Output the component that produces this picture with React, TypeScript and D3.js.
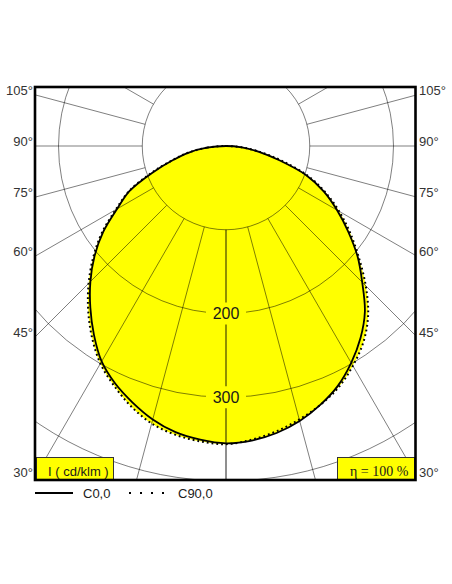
import * as d3 from "d3";

// gamma angles (deg from nadir) and intensities in cd/klm
const gammaAngles = [0, 5, 10, 15, 20, 25, 30, 35, 40, 45, 50, 55, 60, 65, 70, 75, 80, 85, 90];
const c0Values = [355, 353, 348, 340, 329, 316, 299, 280, 258, 230, 205, 178, 153, 129, 102, 66, 40, 19, 0];
const c180Values = [355, 352, 347, 338, 326, 313, 297, 275, 252, 229, 205, 179, 150, 127, 94, 66, 45, 23, 0];
const c90Values = [355, 352, 346, 338, 329, 318, 303, 286, 264, 236, 207, 181, 156, 131, 104, 70, 42, 20, 0];
const c270Values = [356, 354, 350, 343, 331, 316, 300, 279, 256, 232, 207, 181, 152, 128, 96, 67, 46, 23, 0];

const gridIntensities = [100, 200, 300, 400, 500];
const intensityLabels = [200, 300];
const radialAngles = [0, 15, 30, 45, 60, 75, 90, 105, 120, 135, 150, 165, 180];
const angleLabels = [105, 90, 75, 60, 45, 30];

const W = 452;
const H = 584;
const box = { left: 35, right: 415.5, top: 87, bottom: 480 };
const cx = 226;
const cy = 146;

const rScale = d3.scaleLinear().domain([0, 400]).range([0, 335]);
const rad = (deg: number) => (deg * Math.PI) / 180;

const radial = d3
  .lineRadial<[number, number]>()
  .angle((d) => d[0])
  .radius((d) => d[1])
  .curve(d3.curveCatmullRomClosed.alpha(0.5));

function curvePoints(leftVals: number[], rightVals: number[]): [number, number][] {
  const left = gammaAngles
    .map((g, i) => [Math.PI + rad(g), rScale(leftVals[i])] as [number, number])
    .reverse();
  const right = gammaAngles
    .slice(1, -1)
    .map((g, i) => [Math.PI - rad(g), rScale(rightVals[i + 1])] as [number, number]);
  return [...left, ...right];
}

const solidPath = radial(curvePoints(c180Values, c0Values)) ?? "";
const dottedPath = radial(curvePoints(c270Values, c90Values)) ?? "";

const labelFont = "'Liberation Sans', Arial, sans-serif";

function App() {
  const rMax = rScale(700);
  const halfW = (box.right - box.left) / 2;
  const labelY = (deg: number) => cy + Math.cos(rad(deg)) * (Math.max(cx - box.left, halfW) / Math.sin(rad(deg)));

  return (
    <svg width={W} height={H} style={{ position: "absolute", left: 0, top: 0, background: "#ffffff" }}>
      <defs>
        <clipPath id="plotClip">
          <rect x={box.left} y={box.top} width={box.right - box.left} height={box.bottom - box.top} />
        </clipPath>
      </defs>

      <g clipPath="url(#plotClip)">
        <g transform={`translate(${cx},${cy})`}>
          {/* fill: union of both planes */}
          <path d={dottedPath} fill="#ffff00" stroke="none" />
          <path d={solidPath} fill="#ffff00" stroke="none" />

          {/* grid circles */}
          {gridIntensities.map((v) => (
            <circle key={v} r={rScale(v)} fill="none" stroke="#000" strokeOpacity={0.5} strokeWidth={1} />
          ))}

          {/* radial lines on both sides */}
          {radialAngles.map((a) =>
            [1, -1].map((s) => (
              <line
                key={`${a}-${s}`}
                x1={s * Math.sin(rad(a)) * rScale(100)}
                y1={Math.cos(rad(a)) * rScale(100)}
                x2={s * Math.sin(rad(a)) * rMax}
                y2={Math.cos(rad(a)) * rMax}
                stroke="#000"
                strokeOpacity={0.5}
                strokeWidth={1}
              />
            ))
          )}

          {/* curves */}
          <path d={dottedPath} fill="none" stroke="#000" strokeWidth={2} strokeDasharray="1.8 3" />
          <path d={solidPath} fill="none" stroke="#000" strokeWidth={1.8} />

          {/* intensity labels */}
          {intensityLabels.map((v) => (
            <g key={v} transform={`translate(0,${rScale(v)})`}>
              <rect x={-20} y={-11} width={40} height={22} fill="#ffff00" />
              <text
                x={0}
                y={0}
                textAnchor="middle"
                dominantBaseline="central"
                fontFamily={labelFont}
                fontSize={16}
                fill="#1a1a1a"
              >
                {v}
              </text>
            </g>
          ))}
        </g>

        {/* unit / efficiency boxes */}
        <rect x={36.5} y={457.5} width={77} height={23} fill="#ffff00" stroke="#333" strokeWidth={1} />
        <text x={48} y={475.5} fontFamily={labelFont} fontSize={13} fill="#1a1a1a">
          I ( cd/klm )
        </text>
        <rect x={337.5} y={457.5} width={77} height={23} fill="#ffff00" stroke="#333" strokeWidth={1} />
        <text x={350} y={475.5} fontFamily="'Liberation Serif', 'Times New Roman', serif" fontSize={14} fill="#1a1a1a">
          η = 100 %
        </text>
      </g>

      {/* frame */}
      <rect
        x={box.left}
        y={box.top}
        width={box.right - box.left}
        height={box.bottom - box.top}
        fill="none"
        stroke="#000"
        strokeWidth={2.6}
      />

      {/* angle labels */}
      {angleLabels.map((a) => (
        <g key={a}>
          <text x={33} y={labelY(a)} textAnchor="end" fontFamily={labelFont} fontSize={13} fill="#333">
            {a}°
          </text>
          <text x={419} y={labelY(a)} textAnchor="start" fontFamily={labelFont} fontSize={13} fill="#333">
            {a}°
          </text>
        </g>
      ))}

      {/* legend */}
      <line x1={35} x2={73} y1={493} y2={493} stroke="#000" strokeWidth={2} />
      <text x={83} y={497.5} fontFamily={labelFont} fontSize={13} fill="#1a1a1a">
        C0,0
      </text>
      <line x1={129} x2={165} y1={493} y2={493} stroke="#000" strokeWidth={2} strokeDasharray="2 9" />
      <text x={178} y={497.5} fontFamily={labelFont} fontSize={13} fill="#1a1a1a">
        C90,0
      </text>
    </svg>
  );
}

export default App;
